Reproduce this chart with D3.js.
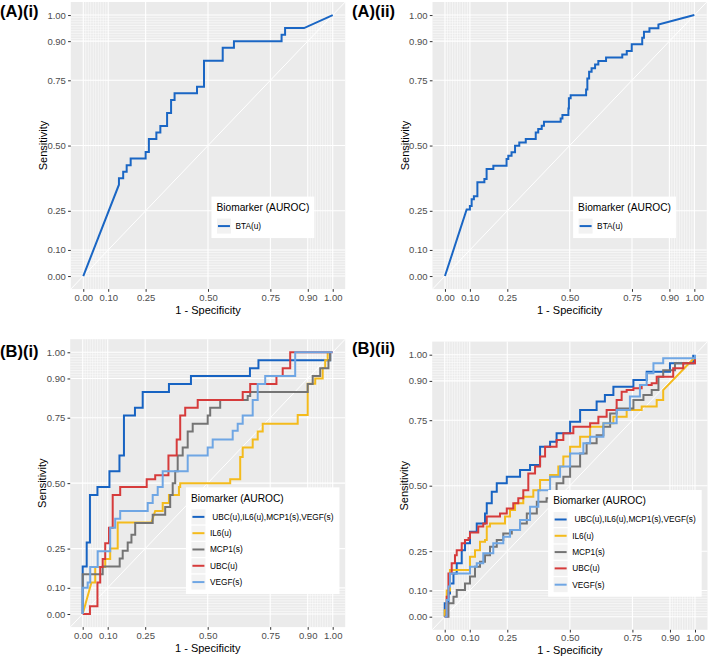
<!DOCTYPE html>
<html><head><meta charset="utf-8">
<script src="https://cdn.jsdelivr.net/npm/d3@7/dist/d3.min.js"></script>
<style>body{margin:0;background:#fff}text{font-family:"Liberation Sans",Arial,sans-serif}</style>
</head><body>
<svg id="chart" width="709" height="657"></svg>
<script>
// ---------- DATA ----------
const tickValues = [0, 0.1, 0.25, 0.5, 0.75, 0.9, 1];
const tickLabels = ["0.00", "0.10", "0.25", "0.50", "0.75", "0.90", "1.00"];
const minorBreaks = [0.01,0.02,0.03,0.04,0.05,0.06,0.07,0.08,0.09,0.91,0.92,0.93,0.94,0.95,0.96,0.97,0.98,0.99];
const panelLabels = ["(A)(i)", "(A)(ii)", "(B)(i)", "(B)(ii)"];
const xTitle = "1 - Specificity";
const yTitle = "Sensitivity";
const legendTitle = "Biomarker (AUROC)";
const namesA = ["BTA(u)"];
const namesB = [" UBC(u),IL6(u),MCP1(s),VEGF(s)", "IL6(u)", "MCP1(s)", "UBC(u)", "VEGF(s)"];

// ROC points [1-specificity, sensitivity]; a third value 1 marks a straight (tied) segment,
// otherwise the curve steps across then up to the point.
const btaA1 = [[0,0],[0.143,0.35,1],[0.143,0.375],[0.16,0.4],[0.174,0.425],[0.19,0.45],[0.25,0.475],[0.263,0.525],[0.293,0.55],[0.309,0.575],[0.336,0.625],[0.352,0.675],[0.366,0.7],[0.456,0.725],[0.484,0.825],[0.559,0.875],[0.604,0.9],[0.795,0.925],[0.809,0.95],[0.885,0.95],[1,1,1]];
const btaA2 = [[0,0],[0.087,0.255,1],[0.1,0.268],[0.107,0.294],[0.116,0.306],[0.13,0.359],[0.158,0.372],[0.167,0.41],[0.194,0.423],[0.247,0.448],[0.254,0.461],[0.267,0.474],[0.281,0.499],[0.298,0.512],[0.324,0.525],[0.364,0.55],[0.374,0.563],[0.388,0.576],[0.397,0.591],[0.464,0.604],[0.471,0.617],[0.495,0.642],[0.497,0.681],[0.504,0.693],[0.566,0.715],[0.571,0.757],[0.578,0.783],[0.588,0.796],[0.602,0.811],[0.615,0.824],[0.646,0.837],[0.711,0.849],[0.729,0.862],[0.749,0.888],[0.791,0.913],[0.798,0.936],[0.82,0.949],[0.856,0.964],[1,1,1]];

const combB1 = [[0,0],[0,0.182],[0.016,0.273],[0.029,0.455],[0.059,0.485],[0.107,0.545],[0.147,0.606],[0.165,0.758],[0.209,0.788],[0.24,0.848],[0.345,0.879],[0.433,0.909],[0.669,0.939],[0.703,0.97],[0.99,1]];
const il6B1 = [[0,0],[0.035,0.12,1],[0.05,0.18],[0.09,0.21],[0.11,0.25],[0.14,0.35],[0.275,0.35],[0.29,0.394,1],[0.32,0.424],[0.345,0.455],[0.385,0.485],[0.39,0.5],[0.59,0.515],[0.63,0.6],[0.64,0.636],[0.68,0.667],[0.7,0.697],[0.72,0.727],[0.86,0.76],[0.9,0.88],[0.93,0.9],[0.96,0.94],[0.97,0.97],[0.98,1]];
const mcp1B1 = [[0,0],[0,0.152],[0.08,0.182],[0.148,0.212],[0.16,0.242],[0.18,0.273],[0.195,0.303],[0.21,0.348],[0.28,0.379],[0.33,0.409],[0.35,0.455],[0.36,0.5],[0.37,0.545],[0.38,0.606],[0.4,0.636],[0.42,0.697],[0.44,0.727],[0.5,0.758],[0.51,0.788],[0.55,0.818],[0.66,0.833],[0.67,0.848],[0.9,0.879],[0.92,0.909],[0.95,0.939],[0.983,0.97],[0.99,1]];
const ubcB1 = [[0,0],[0.029,0.03],[0.059,0.12],[0.07,0.18],[0.08,0.21],[0.09,0.27],[0.105,0.33],[0.12,0.455],[0.15,0.485],[0.256,0.515],[0.29,0.53],[0.343,0.606],[0.376,0.667],[0.39,0.758],[0.41,0.788],[0.46,0.818],[0.64,0.848],[0.67,0.879],[0.775,0.909],[0.8,0.939],[0.83,1],[1,1]];
const vegfB1 = [[0,0],[0,0.1],[0.02,0.12],[0.03,0.18],[0.06,0.24],[0.11,0.33],[0.13,0.364],[0.15,0.394],[0.26,0.424],[0.28,0.455],[0.3,0.485],[0.32,0.545],[0.42,0.606],[0.5,0.636],[0.52,0.667],[0.6,0.7],[0.62,0.727],[0.64,0.758],[0.68,0.818],[0.7,0.879],[0.73,0.909],[0.85,1],[1,1]];

const combB2 = [[0,0],[0,0.051],[0.015,0.089],[0.021,0.127],[0.035,0.165],[0.048,0.204],[0.068,0.254],[0.081,0.28],[0.101,0.324],[0.128,0.356],[0.161,0.394],[0.168,0.433],[0.188,0.477],[0.208,0.509],[0.248,0.534],[0.301,0.56],[0.341,0.579],[0.381,0.649],[0.421,0.668],[0.447,0.7],[0.501,0.744],[0.541,0.789],[0.607,0.821],[0.64,0.846],[0.674,0.878],[0.754,0.903],[0.807,0.935],[0.9,0.967],[0.993,1]];
const il6B2 = [[0,0],[0,0.025],[0.008,0.1],[0.021,0.178],[0.101,0.229],[0.121,0.254],[0.141,0.286],[0.161,0.293],[0.168,0.344],[0.181,0.356],[0.241,0.382],[0.261,0.407],[0.281,0.433],[0.314,0.458],[0.354,0.483],[0.381,0.522],[0.421,0.541],[0.454,0.573],[0.474,0.611],[0.501,0.649],[0.541,0.687],[0.581,0.725],[0.634,0.738],[0.674,0.763],[0.727,0.789],[0.787,0.802],[0.847,0.827],[0.873,0.865],[1,0.99,1]];
const mcp1B2 = [[0,0],[0.015,0.051],[0.035,0.076],[0.048,0.102],[0.081,0.127],[0.101,0.153],[0.121,0.191],[0.141,0.21],[0.161,0.235],[0.181,0.267],[0.208,0.293],[0.234,0.318],[0.268,0.331],[0.301,0.356],[0.328,0.394],[0.368,0.439],[0.407,0.452],[0.447,0.509],[0.474,0.534],[0.501,0.573],[0.541,0.623],[0.567,0.662],[0.607,0.693],[0.634,0.725],[0.661,0.776],[0.687,0.795],[0.754,0.827],[0.794,0.846],[0.827,0.865],[0.854,0.916],[0.873,0.941],[0.92,0.967],[1,0.98]];
const ubcB2 = [[0,0],[0.008,0.076],[0.015,0.165],[0.028,0.204],[0.041,0.235],[0.048,0.254],[0.068,0.28],[0.081,0.293],[0.095,0.3],[0.101,0.321],[0.134,0.344],[0.154,0.356],[0.168,0.382],[0.221,0.394],[0.248,0.413],[0.274,0.433],[0.294,0.452],[0.314,0.483],[0.334,0.547],[0.361,0.573],[0.381,0.611],[0.401,0.649],[0.447,0.674],[0.474,0.7],[0.514,0.725],[0.581,0.738],[0.614,0.763],[0.647,0.789],[0.687,0.827],[0.707,0.859],[0.727,0.865],[0.754,0.872],[0.787,0.884],[0.827,0.891],[0.847,0.916],[0.913,0.948],[0.953,0.967],[1,0.99]];
const vegfB2 = [[0,0],[0.008,0.064],[0.015,0.115],[0.021,0.165],[0.101,0.191],[0.128,0.204],[0.154,0.242],[0.194,0.28],[0.234,0.305],[0.261,0.331],[0.301,0.369],[0.341,0.42],[0.374,0.483],[0.421,0.534],[0.461,0.573],[0.501,0.623],[0.554,0.662],[0.581,0.687],[0.634,0.738],[0.687,0.789],[0.74,0.84],[0.78,0.884],[0.807,0.929],[0.834,0.967],[0.873,0.986],[0.953,0.986],[1,1]];

const colorA = ["#1a66c4"];
const colorsB = ["#1763c2", "#f4bb1c", "#747474", "#d63b3b", "#6fa6e4"];

// ---------- LAYOUT ----------
const panels = [
  {label: panelLabels[0], lx: 0, ly: 17, left: 70.8, right: 345.2, top: 2, bottom: 289.1, series: [btaA1], names: namesA, colors: colorA, legY: 0.25},
  {label: panelLabels[1], lx: 352, ly: 17, left: 432.5, right: 706.8, top: 2, bottom: 289.1, series: [btaA2], names: namesA, colors: colorA, legY: 0.25},
  {label: panelLabels[2], lx: 0, ly: 357, left: 70.2, right: 345.2, top: 339.2, bottom: 627.1, series: [combB1, il6B1, mcp1B1, ubcB1, vegfB1], names: namesB, colors: colorsB, legY: 0.30},
  {label: panelLabels[3], lx: 352, ly: 354, left: 432.2, right: 707.5, top: 341.6, bottom: 629.8, series: [combB2, il6B2, mcp1B2, ubcB2, vegfB2], names: namesB, colors: colorsB, legY: 0.30}
];

function stairs(pts) {
  const v = [[pts[0][0], pts[0][1]]];
  for (let i = 1; i < pts.length; i++) {
    const p = pts[i];
    if (!p[2]) v.push([p[0], v[v.length - 1][1]]);
    v.push([p[0], p[1]]);
  }
  return v;
}

const svg = d3.select("#chart");
svg.append("rect").attr("width", 709).attr("height", 657).attr("fill", "#fff");

panels.forEach(P => {
  const g = svg.append("g");
  const x = d3.scaleLinear().domain([-0.05, 1.05]).range([P.left, P.right]);
  const y = d3.scaleLinear().domain([-0.05, 1.05]).range([P.bottom, P.top]);
  const clipId = "clip" + P.label.replace(/[^A-Za-z]/g, "");
  g.append("clipPath").attr("id", clipId).append("rect")
    .attr("x", P.left).attr("y", P.top).attr("width", P.right - P.left).attr("height", P.bottom - P.top);

  g.append("rect").attr("x", P.left).attr("y", P.top).attr("width", P.right - P.left)
    .attr("height", P.bottom - P.top).attr("fill", "#ebebeb");

  const grid = g.append("g");
  grid.selectAll("line.mx").data(minorBreaks).join("line")
    .attr("x1", d => x(d)).attr("x2", d => x(d)).attr("y1", P.top).attr("y2", P.bottom)
    .attr("stroke", "#fff").attr("stroke-width", 0.55);
  grid.selectAll("line.my").data(minorBreaks).join("line").attr("class", "my")
    .attr("y1", d => y(d)).attr("y2", d => y(d)).attr("x1", P.left).attr("x2", P.right)
    .attr("stroke", "#fff").attr("stroke-width", 0.55);
  tickValues.forEach(t => {
    grid.append("line").attr("x1", x(t)).attr("x2", x(t)).attr("y1", P.top).attr("y2", P.bottom)
      .attr("stroke", "#fff").attr("stroke-width", 1.1);
    grid.append("line").attr("y1", y(t)).attr("y2", y(t)).attr("x1", P.left).attr("x2", P.right)
      .attr("stroke", "#fff").attr("stroke-width", 1.1);
  });

  // diagonal reference
  g.append("line").attr("x1", x(-0.05)).attr("y1", y(-0.05)).attr("x2", x(1.05)).attr("y2", y(1.05))
    .attr("stroke", "#fff").attr("stroke-width", 1);

  // curves
  const line = d3.line().x(d => x(d[0])).y(d => y(d[1]));
  const cg = g.append("g").attr("clip-path", `url(#${clipId})`);
  P.series.forEach((s, i) => {
    cg.append("path").attr("d", line(stairs(s))).attr("fill", "none")
      .attr("stroke", P.colors[i]).attr("stroke-width", 2).attr("stroke-linejoin", "miter");
  });

  // axes
  const xAxis = d3.axisBottom(x).tickValues(tickValues).tickFormat((d, i) => tickLabels[i]).tickSize(2.7).tickPadding(2);
  const yAxis = d3.axisLeft(y).tickValues(tickValues).tickFormat((d, i) => tickLabels[i]).tickSize(2.7).tickPadding(2.2);
  const xa = g.append("g").attr("transform", `translate(0,${P.bottom})`).call(xAxis);
  const ya = g.append("g").attr("transform", `translate(${P.left},0)`).call(yAxis);
  [xa, ya].forEach(a => {
    a.select(".domain").remove();
    a.selectAll(".tick line").attr("stroke", "#333").attr("stroke-width", 1);
    a.selectAll(".tick text").attr("fill", "#4d4d4d").style("font-size", "9.5px").style("font-family", '"Liberation Sans",Arial,sans-serif');
  });

  g.append("text").attr("x", (P.left + P.right) / 2).attr("y", P.bottom + 24.5)
    .attr("text-anchor", "middle").style("font-size", "11px").attr("fill", "#000").text(xTitle);
  g.append("text").attr("transform", `translate(${P.left - 24},${(P.top + P.bottom) / 2}) rotate(-90)`)
    .attr("text-anchor", "middle").style("font-size", "11px").attr("fill", "#000").text(yTitle);

  g.append("text").attr("x", P.lx).attr("y", P.ly).style("font-size", "16.5px").style("font-weight", "bold")
    .attr("fill", "#000").text(P.label);

  // legend
  const lg = g.append("g");
  const box = lg.append("rect").attr("fill", "#fff");
  const tt = lg.append("text").attr("x", 5).attr("y", 14.5).style("font-size", "10.2px").attr("fill", "#000").text(legendTitle);
  let maxW = tt.node().getComputedTextLength() + 10;
  const rowH = 16.3;
  P.names.forEach((n, i) => {
    const cy = 29.5 + i * rowH;
    lg.append("rect").attr("x", 5.5).attr("y", cy - 7.5).attr("width", 14).attr("height", 15).attr("fill", "#f2f2f2");
    lg.append("line").attr("x1", 6.5).attr("x2", 18.5).attr("y1", cy).attr("y2", cy)
      .attr("stroke", P.colors[i]).attr("stroke-width", 2);
    const t = lg.append("text").attr("x", 24).attr("y", cy + 3).style("font-size", "8.3px")
      .attr("fill", "#000").attr("xml:space", "preserve").style("white-space", "pre").text(n);
    maxW = Math.max(maxW, 24 + t.node().getComputedTextLength() + 6);
  });
  const bh = 29.5 + (P.names.length - 1) * rowH + 12;
  box.attr("width", maxW).attr("height", bh);
  const cx = P.left + 0.70 * (P.right - P.left);
  const cyL = P.bottom - P.legY * (P.bottom - P.top);
  lg.attr("transform", `translate(${cx - maxW / 2},${cyL - bh / 2})`);
});
</script>
</body></html>
